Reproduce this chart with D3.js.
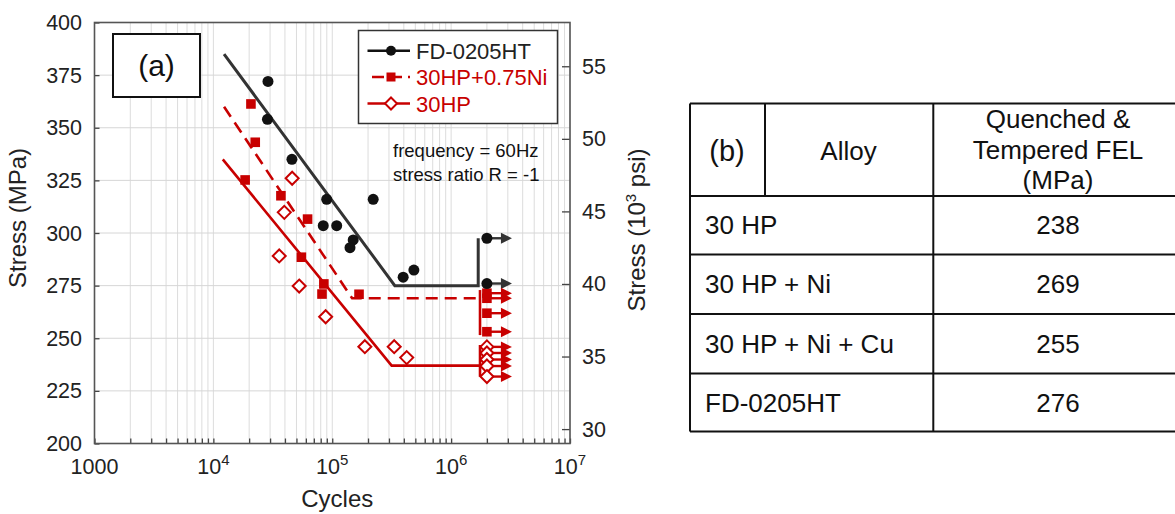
<!DOCTYPE html>
<html>
<head>
<meta charset="utf-8">
<script src="https://cdn.jsdelivr.net/npm/d3@7"></script>
<style>
  body { margin: 0; background: #fff; }
  svg text { font-family: "Liberation Sans", Arial, sans-serif; }
</style>
</head>
<body>
<div id="chart"></div>
<script>
// ---- data ----
var fdCycles = [28800, 28500, 45800, 89800, 84000, 109000, 150000, 141000, 221000, 395000, 486000];
var fdStress = [372, 354, 335, 316, 303.5, 303.5, 296.7, 293, 316, 279, 282.4];
var fdRunoutCycles = [2e6, 2e6];
var fdRunoutStress = [297.5, 276];

var niCycles = [20700, 22500, 18500, 37000, 62000, 55000, 85000, 82000, 168000];
var niStress = [361.3, 343.1, 325.2, 317.7, 306.6, 288.5, 275.8, 271, 270.9];
var niRunoutCycles = [2e6, 2e6, 2e6, 2e6];
var niRunoutStress = [271.4, 269, 261.9, 253.1];

var hpCycles = [46000, 39500, 35800, 52700, 88000, 188000, 332000, 423000];
var hpStress = [326, 309.8, 289.1, 274.8, 260.2, 246, 246, 240.8];
var hpRunoutCycles = [2e6, 2e6, 2e6, 2e6, 2e6];
var hpRunoutStress = [245.9, 243, 239.9, 236.8, 231.8];

// fitted curves (cycles, stress)
var fdFitCycles = [12300, 336000, 1.69e6, 1.69e6];
var fdFitStress = [385, 275, 275, 297.5];
var niFitCycles = [12300, 147000, 1.67e6];
var niFitStress = [360, 269, 269];
var niBarCycles = [1.75e6, 1.75e6];
var niBarStress = [272.9, 251.5];
var hpFitCycles = [12000, 316000, 1.75e6];
var hpFitStress = [335, 237, 237];
var hpBarCycles = [1.75e6, 1.75e6];
var hpBarStress = [246.8, 231.7];

var yTicksMPa = [200, 225, 250, 275, 300, 325, 350, 375, 400];
var yTicksPsi = [30, 35, 40, 45, 50, 55];
var xTickExp = [3, 4, 5, 6, 7];

var legendLabels = ["FD-0205HT", "30HP+0.75Ni", "30HP"];

var tableHead = ["(b)", "Alloy", ["Quenched &", "Tempered FEL", "(MPa)"]];
var tableAlloys = ["30 HP", "30 HP + Ni", "30 HP + Ni + Cu", "FD-0205HT"];
var tableFEL = [238, 269, 255, 276];

// ---- setup ----
var W = 1175, H = 514;
var red = "#c80000", dark = "#222";

var svg = d3.select("#chart").append("svg")
    .attr("width", W)
    .attr("height", H);

var x = d3.scaleLog().domain([1000, 1e7]).range([94.5, 570]);
var y = d3.scaleLinear().domain([200, 400]).range([443.5, 22.5]);
var yPsi = d3.scaleLinear().domain([200 / 6.894757, 400 / 6.894757]).range([443.5, 22.5]);

function zip(a, b) { return a.map(function(v, i) { return [v, b[i]]; }); }

// gridlines
var minor = [];
for (var e = 3; e < 7; e++) {
    for (var k = 1; k < 10; k++) minor.push(k * Math.pow(10, e));
}
minor.push(1e7);

svg.append("g").selectAll("line.vg")
    .data(minor)
    .enter().append("line")
    .attr("x1", function(d) { return x(d); })
    .attr("x2", function(d) { return x(d); })
    .attr("y1", y(200)).attr("y2", y(400))
    .attr("stroke", "#dcdcdc").attr("stroke-width", 1);

svg.append("g").selectAll("line.hg")
    .data(yTicksMPa)
    .enter().append("line")
    .attr("x1", x(1000)).attr("x2", x(1e7))
    .attr("y1", function(d) { return y(d); })
    .attr("y2", function(d) { return y(d); })
    .attr("stroke", "#d6d6d6").attr("stroke-width", 1);

// axes (ticks point inward)
var gx = svg.append("g").attr("transform", "translate(0," + y(200) + ")")
    .call(d3.axisBottom(x).tickValues(minor).tickSize(-5).tickFormat(""));
var gy = svg.append("g").attr("transform", "translate(" + x(1000) + ",0)")
    .call(d3.axisLeft(y).tickValues(yTicksMPa).tickSize(-5).tickFormat(""));
var gr = svg.append("g").attr("transform", "translate(" + x(1e7) + ",0)")
    .call(d3.axisRight(yPsi).tickValues(yTicksPsi).tickSize(-8).tickFormat(""));
[gx, gy, gr].forEach(function(g) {
    g.selectAll("path").remove();
    g.selectAll("line").attr("stroke", "#444").attr("stroke-width", 1.3);
});

// frame
svg.append("rect")
    .attr("x", x(1000)).attr("y", y(400))
    .attr("width", x(1e7) - x(1000)).attr("height", y(200) - y(400))
    .attr("fill", "none").attr("stroke", "#555").attr("stroke-width", 1.6);

// tick labels
svg.append("g").selectAll("text")
    .data(yTicksMPa)
    .enter().append("text")
    .attr("x", 82).attr("y", function(d) { return y(d) + 7.5; })
    .attr("text-anchor", "end").attr("font-size", 21.5).attr("fill", dark)
    .text(function(d) { return d; });

svg.append("g").selectAll("text")
    .data(yTicksPsi)
    .enter().append("text")
    .attr("x", 582).attr("y", function(d) { return yPsi(d) + 7.5; })
    .attr("font-size", 21.5).attr("fill", dark)
    .text(function(d) { return d; });

var xl = svg.append("g").selectAll("text")
    .data(xTickExp)
    .enter().append("text")
    .attr("x", function(d) { return x(Math.pow(10, d)); })
    .attr("y", 474)
    .attr("text-anchor", "middle").attr("font-size", 21.5).attr("fill", dark);
xl.each(function(d) {
    var t = d3.select(this);
    if (d === 3) { t.text("1000"); return; }
    t.append("tspan").text("10");
    t.append("tspan").attr("dy", -9).attr("font-size", 15).text(d);
});

// axis titles
svg.append("text")
    .attr("x", x(1e5) + 5).attr("y", 507)
    .attr("text-anchor", "middle").attr("font-size", 24).attr("fill", dark)
    .text("Cycles");

svg.append("text")
    .attr("transform", "translate(26,218) rotate(-90)")
    .attr("text-anchor", "middle").attr("font-size", 24).attr("fill", dark)
    .text("Stress (MPa)");

var rt = svg.append("text")
    .attr("transform", "translate(645,230) rotate(-90)")
    .attr("text-anchor", "middle").attr("font-size", 24).attr("fill", dark);
rt.append("tspan").text("Stress (10");
rt.append("tspan").attr("dy", -9).attr("font-size", 15).text("3");
rt.append("tspan").attr("dy", 9).text(" psi)");

// fitted lines
var line = d3.line()
    .x(function(d) { return x(d[0]); })
    .y(function(d) { return y(d[1]); });

svg.append("path").datum(zip(fdFitCycles, fdFitStress))
    .attr("d", line).attr("fill", "none").attr("stroke", "#333").attr("stroke-width", 3);
svg.append("path").datum(zip(niFitCycles, niFitStress))
    .attr("d", line).attr("fill", "none").attr("stroke", red)
    .attr("stroke-width", 2.6).attr("stroke-dasharray", "12,7");
svg.append("path").datum(zip(niBarCycles, niBarStress))
    .attr("d", line).attr("fill", "none").attr("stroke", red).attr("stroke-width", 2.6);
svg.append("path").datum(zip(hpFitCycles, hpFitStress))
    .attr("d", line).attr("fill", "none").attr("stroke", red).attr("stroke-width", 2.6);
svg.append("path").datum(zip(hpBarCycles, hpBarStress))
    .attr("d", line).attr("fill", "none").attr("stroke", red).attr("stroke-width", 2.6);

// runout arrows
function arrows(cyc, str, color) {
    var g = svg.append("g");
    zip(cyc, str).forEach(function(p) {
        var px = x(p[0]), py = y(p[1]);
        g.append("line")
            .attr("x1", px).attr("x2", px + 16).attr("y1", py).attr("y2", py)
            .attr("stroke", color).attr("stroke-width", 2.4);
        g.append("path")
            .attr("d", "M" + (px + 14) + "," + (py - 5.5) + "L" + (px + 25) + "," + py + "L" + (px + 14) + "," + (py + 5.5) + "Z")
            .attr("fill", color);
    });
}
arrows(fdRunoutCycles, fdRunoutStress, "#333");
arrows(niRunoutCycles, niRunoutStress, red);
arrows(hpRunoutCycles, hpRunoutStress, red);

// markers
function circles(cyc, str) {
    svg.append("g").selectAll("circle")
        .data(zip(cyc, str))
        .enter().append("circle")
        .attr("cx", function(d) { return x(d[0]); })
        .attr("cy", function(d) { return y(d[1]); })
        .attr("r", 5.5).attr("fill", "#111");
}
function squares(cyc, str) {
    svg.append("g").selectAll("rect")
        .data(zip(cyc, str))
        .enter().append("rect")
        .attr("x", function(d) { return x(d[0]) - 4.8; })
        .attr("y", function(d) { return y(d[1]) - 4.8; })
        .attr("width", 9.6).attr("height", 9.6).attr("fill", red);
}
function diamonds(cyc, str) {
    svg.append("g").selectAll("path")
        .data(zip(cyc, str))
        .enter().append("path")
        .attr("transform", function(d) { return "translate(" + x(d[0]) + "," + y(d[1]) + ")"; })
        .attr("d", "M0,-6.5L6.5,0L0,6.5L-6.5,0Z")
        .attr("fill", "#fff").attr("stroke", red).attr("stroke-width", 2);
}

diamonds(hpCycles, hpStress);
diamonds(hpRunoutCycles, hpRunoutStress);
squares(niCycles, niStress);
squares(niRunoutCycles, niRunoutStress);
circles(fdCycles, fdStress);
circles(fdRunoutCycles, fdRunoutStress);

// (a) box
svg.append("rect")
    .attr("x", 113).attr("y", 34).attr("width", 87).attr("height", 63)
    .attr("fill", "#fff").attr("stroke", "#111").attr("stroke-width", 2);
svg.append("text")
    .attr("x", 156.5).attr("y", 76).attr("text-anchor", "middle")
    .attr("font-size", 30).attr("fill", "#111").text("(a)");

// legend
var lg = svg.append("g");
lg.append("rect")
    .attr("x", 358.5).attr("y", 30.5).attr("width", 199).attr("height", 93)
    .attr("fill", "#fff").attr("stroke", "#333").attr("stroke-width", 1.5);
var rowY = [50.7, 77, 103.5];
var lgColor = [dark, red, red];
legendLabels.forEach(function(lab, i) {
    var yy = rowY[i];
    var l = lg.append("line")
        .attr("x1", 367.5).attr("x2", 410).attr("y1", yy).attr("y2", yy)
        .attr("stroke", i === 0 ? "#111" : red).attr("stroke-width", 2.4);
    if (i === 1) l.attr("x1", 372).attr("stroke-dasharray", "12,6");
    if (i === 0) lg.append("circle").attr("cx", 391).attr("cy", yy).attr("r", 5).attr("fill", "#111");
    if (i === 1) lg.append("rect").attr("x", 386.5).attr("y", yy - 4.5).attr("width", 9).attr("height", 9).attr("fill", red);
    if (i === 2) lg.append("path").attr("transform", "translate(391," + yy + ")")
        .attr("d", "M0,-6L6,0L0,6L-6,0Z").attr("fill", "#fff").attr("stroke", red).attr("stroke-width", 2);
    lg.append("text")
        .attr("x", 416).attr("y", yy + 8).attr("font-size", 22)
        .attr("fill", lgColor[i]).text(lab);
});

// test conditions
svg.append("text").attr("x", 393).attr("y", 157).attr("font-size", 18.5).attr("fill", "#111")
    .text("frequency = 60Hz");
svg.append("text").attr("x", 393).attr("y", 181).attr("font-size", 18.5).attr("fill", "#111")
    .text("stress ratio R = -1");

// ---- table (b) ----
var tb = svg.append("g");
var tLeft = 690, tRight = 1185;
var colX = [765, 933.3];
var rowLines = [103.5, 196, 254.5, 314, 373.5, 431.5];
var tStroke = "#111";

rowLines.forEach(function(ry) {
    tb.append("line").attr("x1", tLeft).attr("x2", tRight).attr("y1", ry).attr("y2", ry)
        .attr("stroke", tStroke).attr("stroke-width", 2);
});
tb.append("line").attr("x1", tLeft).attr("x2", tLeft).attr("y1", rowLines[0]).attr("y2", rowLines[5])
    .attr("stroke", tStroke).attr("stroke-width", 2);
tb.append("line").attr("x1", colX[0]).attr("x2", colX[0]).attr("y1", rowLines[0]).attr("y2", rowLines[1])
    .attr("stroke", tStroke).attr("stroke-width", 2);
tb.append("line").attr("x1", colX[1]).attr("x2", colX[1]).attr("y1", rowLines[0]).attr("y2", rowLines[5])
    .attr("stroke", tStroke).attr("stroke-width", 2);

var valX = 1058;
tb.append("text").attr("x", 727).attr("y", 161).attr("text-anchor", "middle")
    .attr("font-size", 29).attr("fill", "#111").text(tableHead[0]);
tb.append("text").attr("x", 848.5).attr("y", 160).attr("text-anchor", "middle")
    .attr("font-size", 26).attr("fill", "#111").text(tableHead[1]);
tableHead[2].forEach(function(s, i) {
    tb.append("text").attr("x", valX).attr("y", 128 + i * 30.5).attr("text-anchor", "middle")
        .attr("font-size", 26).attr("fill", "#111").text(s);
});

tableAlloys.forEach(function(a, i) {
    var cy = (rowLines[i + 1] + rowLines[i + 2]) / 2;
    tb.append("text").attr("x", 705).attr("y", cy + 9).attr("font-size", 26)
        .attr("fill", "#111").text(a);
    tb.append("text").attr("x", valX).attr("y", cy + 9).attr("text-anchor", "middle")
        .attr("font-size", 26).attr("fill", "#111").text(tableFEL[i]);
});
</script>
</body>
</html>
